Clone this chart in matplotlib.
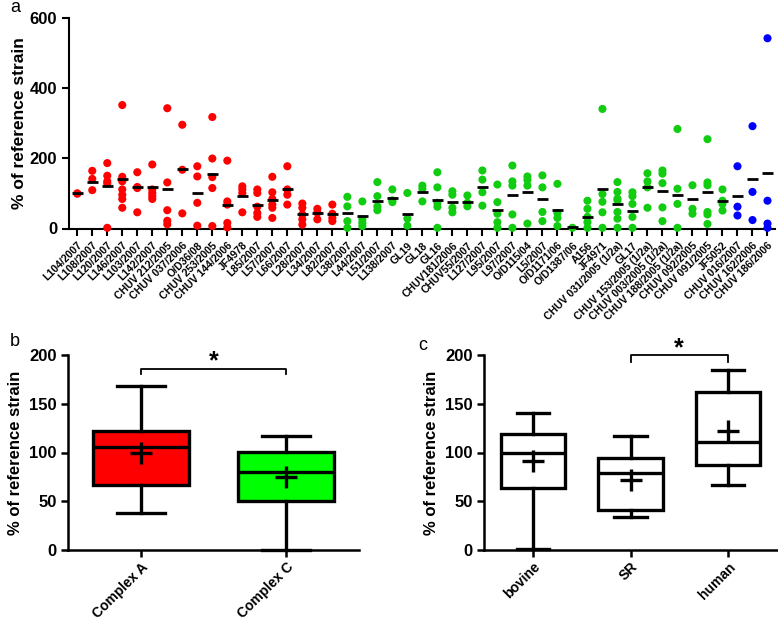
import matplotlib
matplotlib.use("Agg")
import matplotlib.pyplot as plt

plt.rcParams['font.family'] = ['Liberation Sans', 'DejaVu Sans']

# --- panel a : souches et valeurs individuelles ---
red_labels = ["L104/2007", "L108/2007", "L120/2007", "L146/2007", "L103/2007", "L142/2007",
              "CHUV 212/2005", "CHUV 037/2006", "O/D36/08", "CHUV 253/2005", "CHUV 144/2006",
              "JF4978", "L85/2007", "L57/2007", "L66/2007", "L28/2007", "L34/2007", "L82/2007"]
green_labels = ["L38/2007", "L44/2007", "L51/2007", "L138/2007", "GL19", "GL18", "GL16",
                "CHUV181/2006", "CHUV55/2007", "L127/2007", "L95/2007", "L97/2007", "O/D115/04",
                "L5/2007", "O/D1171/06", "O/D1387/06", "A156", "JF4971", "CHUV 031/2005 (1/2a)",
                "GL17", "CHUV 153/2005 (1/2a)", "CHUV 003/2005 (1/2a)", "CHUV 188/2005 (1/2a)",
                "CHUV 092/2005", "CHUV 091/2005", "JF5052"]
blue_labels = ["CHUV 016/2007", "CHUV 162/2006", "CHUV 186/2006"]

red_values = [[100, 99], [164, 141, 109], [186, 150, 134, 128, 2], [351, 147, 134, 111, 96, 84, 59],
              [160, 118, 115, 46], [182, 111, 101, 92, 84], [342, 131, 52, 22, 12], [295, 167, 43],
              [177, 148, 73, 8], [317, 199, 146, 115, 7], [193, 77, 68, 16, 3], [120, 111, 101, 46],
              [111, 101, 62, 44, 33], [147, 103, 84, 68, 59, 30], [177, 111, 96, 68],
              [71, 59, 40, 26, 11], [56, 45, 26], [68, 42, 30, 21]]
green_values = [[90, 63, 21, 2], [77, 26, 16, 7], [132, 92, 63, 52], [111, 80, 75], [101, 28, 8],
                [122, 113, 77], [160, 117, 73, 62, 2], [106, 96, 59, 46], [94, 73, 63],
                [165, 139, 103, 65], [125, 75, 42, 18, 2], [179, 134, 122, 40, 2], [148, 138, 122, 14],
                [151, 117, 47, 21], [127, 44, 30, 7], [2], [79, 56, 33, 18, 2], [340, 98, 76, 46, 2],
                [132, 104, 85, 80, 47, 28, 2], [103, 92, 70, 33, 2], [157, 134, 117, 59],
                [165, 156, 129, 60, 21], [283, 113, 70, 2], [123, 56, 42],
                [254, 131, 123, 47, 40, 13], [111, 79, 70, 51]]
blue_values = [[177, 62, 37], [291, 104, 24], [541, 79, 14, 2]]

red_means = [100, 132, 120, 142, 118, 117, 113, 169, 101, 156, 68, 92, 68, 82, 113, 40, 43, 40]
green_means = [44, 35, 79, 87, 42, 103, 82, 75, 76, 117, 52, 94, 105, 84, 52, 3, 32, 113, 69, 50,
               117, 106, 94, 85, 103, 77]
blue_means = [92, 140, 159]

# --- panel b : complexes clonaux ---
complex_names = ["Complex A", "Complex C"]
complex_whislo = [38, 0]
complex_q1 = [67, 50]
complex_med = [106, 80]
complex_q3 = [122, 101]
complex_whishi = [168, 117]
complex_mean = [100, 75]

# --- panel c : origine ---
host_names = ["bovine", "SR", "human"]
host_whislo = [1, 34, 67]
host_q1 = [64, 41, 87]
host_med = [100, 79, 111]
host_q3 = [119, 94, 162]
host_whishi = [141, 117, 185]
host_mean = [91, 72, 122]

W, H = 778, 623
fig = plt.figure(figsize=(W / 100, H / 100), dpi=100)


def px_axes(x0, y0, x1, y1):
    return fig.add_axes([x0 / W, 1 - y1 / H, (x1 - x0) / W, (y1 - y0) / H])


def style(ax, lw):
    ax.spines['top'].set_visible(False)
    ax.spines['right'].set_visible(False)
    for s in ('left', 'bottom'):
        ax.spines[s].set_linewidth(lw)
    ax.tick_params(direction='out', width=lw, length=5)
    for t in ax.get_yticklabels():
        t.set_fontweight('bold')


# panel a
ax = px_axes(69, 17.5, 775, 228.5)
labels = red_labels + green_labels + blue_labels
groups = [(red_values, red_means, '#FF0000'),
          (green_values, green_means, '#11CC11'),
          (blue_values, blue_means, '#0000FF')]
i = 0
for values, means, col in groups:
    for vals, m in zip(values, means):
        ax.scatter([i] * len(vals), vals, s=34, color=col, edgecolors='none', zorder=3, clip_on=False)
        ax.hlines(m, i - 0.36, i + 0.36, color='black', lw=2, zorder=4)
        i += 1
ax.set_xlim(-0.55, 46.5)
ax.set_ylim(0, 600)
ax.set_yticks([0, 200, 400, 600])
ax.set_xticks(range(len(labels)))
ax.set_xticklabels(labels, rotation=45, ha='right', rotation_mode='anchor',
                   fontsize=7.6, fontweight='bold')
ax.set_ylabel('% of reference strain', fontsize=12.5, fontweight='bold', labelpad=2)
style(ax, 1.5)
ax.tick_params(axis='y', labelsize=12)
fig.text(10 / W, 1 - 8 / H, 'a', fontsize=13, va='center', ha='left')


def draw_box(ax, names, wl, q1, med, q3, wh, mean, colors):
    stats = []
    for n, a, b, c, d, e, m in zip(names, wl, q1, med, q3, wh, mean):
        stats.append(dict(label=n, whislo=a, q1=b, med=c, q3=d, whishi=e, mean=m))
    bp = ax.bxp(stats, widths=0.66, showmeans=True, showfliers=False, patch_artist=True,
                boxprops=dict(linewidth=2.4, edgecolor='black'),
                whiskerprops=dict(linewidth=2.4, color='black'),
                capprops=dict(linewidth=2.4, color='black'),
                medianprops=dict(linewidth=2.4, color='black'),
                meanprops=dict(marker='+', markersize=16, markeredgewidth=2.4,
                               markeredgecolor='black'),
                capwidths=0.33)
    for patch, c in zip(bp['boxes'], colors):
        patch.set_facecolor(c)
    for k in ('whiskers', 'caps', 'boxes', 'medians', 'means'):
        for art in bp[k]:
            art.set_clip_on(False)


# panel b
axb = px_axes(68.3, 355, 359, 550)
draw_box(axb, complex_names, complex_whislo, complex_q1, complex_med, complex_q3,
         complex_whishi, complex_mean, ['#FF0000', '#00FF00'])
axb.set_xlim(0.5, 2.5)
axb.set_ylim(0, 200)
axb.set_yticks([0, 50, 100, 150, 200])
axb.set_xticklabels(complex_names, rotation=45, ha='right', rotation_mode='anchor',
                    fontsize=10, fontweight='bold')
axb.set_ylabel('% of reference strain', fontsize=12, fontweight='bold', labelpad=4)
style(axb, 1.8)
axb.tick_params(axis='y', labelsize=12)
axb.tick_params(axis='x', pad=2)
axb.plot([1, 1, 2, 2], [181, 186, 186, 181], color='black', lw=1.3, clip_on=False)
axb.text(1.5, 194, '*', fontsize=18, fontweight='bold', ha='center', va='center')
fig.text(10 / W, 1 - 342 / H, 'b', fontsize=13, va='center', ha='left')

# panel c
axc = px_axes(484.3, 355, 776.7, 550)
draw_box(axc, host_names, host_whislo, host_q1, host_med, host_q3, host_whishi, host_mean,
         ['white', 'white', 'white'])
axc.set_xlim(0.5, 3.5)
axc.set_ylim(0, 200)
axc.set_yticks([0, 50, 100, 150, 200])
axc.set_xticklabels(host_names, rotation=45, ha='right', rotation_mode='anchor',
                    fontsize=10, fontweight='bold')
axc.set_ylabel('% of reference strain', fontsize=12, fontweight='bold', labelpad=4)
style(axc, 1.8)
axc.tick_params(axis='y', labelsize=12)
axc.tick_params(axis='x', pad=2)
axc.plot([2, 2, 3, 3], [193, 200, 200, 193], color='black', lw=1.3, clip_on=False)
axc.text(2.5, 207, '*', fontsize=18, fontweight='bold', ha='center', va='center')
fig.text(418 / W, 1 - 345 / H, 'c', fontsize=13, va='center', ha='left')

fig.savefig('out.png', dpi=100)
